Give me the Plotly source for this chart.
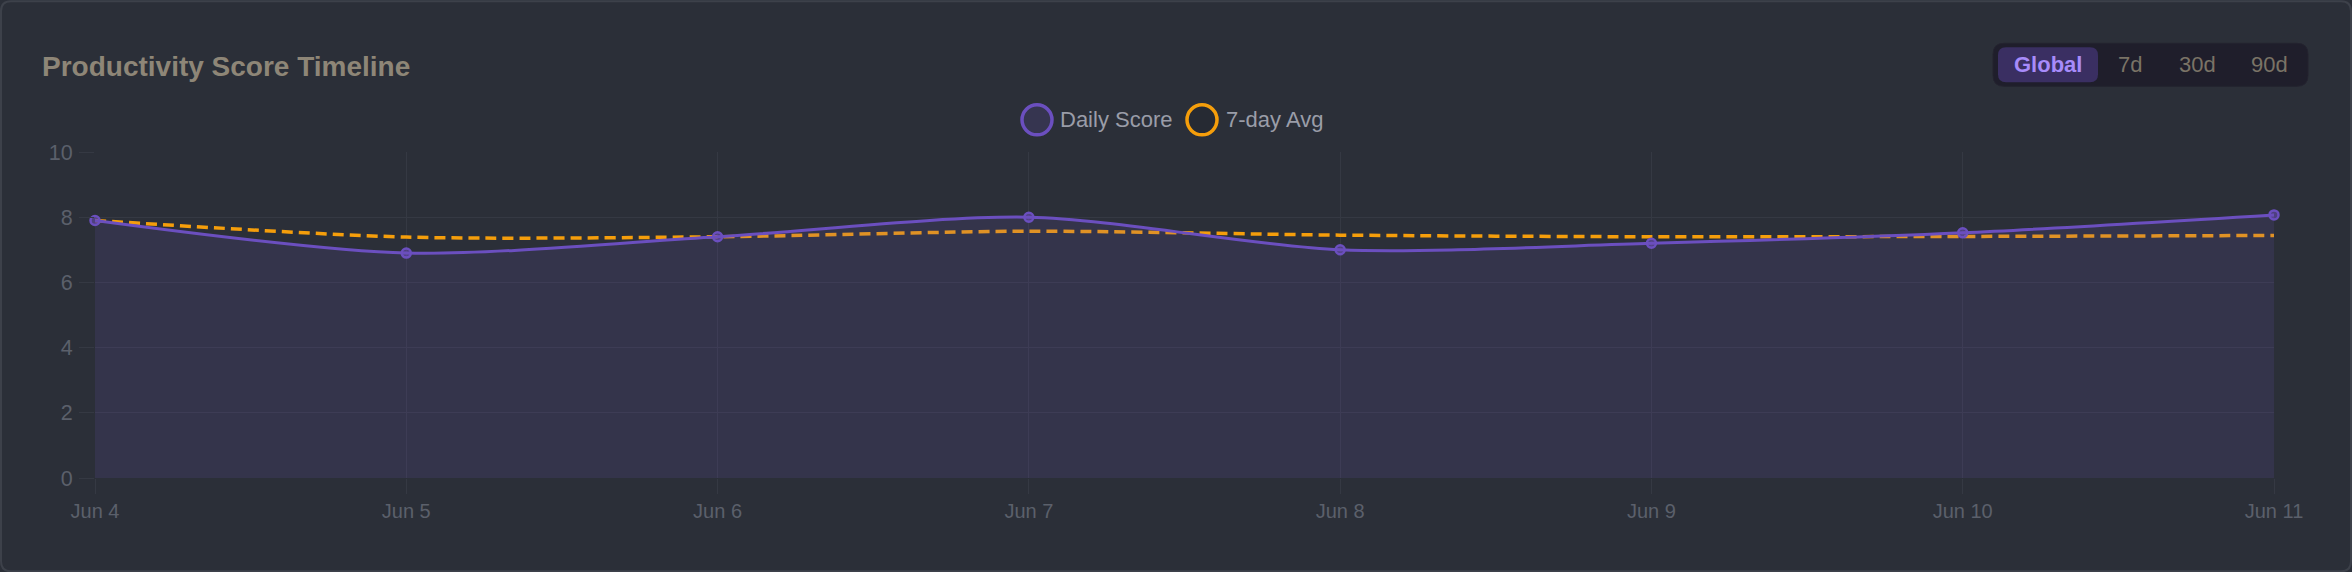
import plotly.graph_objects as go

dates = ["Jun 4", "Jun 5", "Jun 6", "Jun 7", "Jun 8", "Jun 9", "Jun 10", "Jun 11"]
daily_score = [7.9, 6.9, 7.4, 8.0, 7.0, 7.2, 7.52, 8.07]
avg_7day = [7.9, 7.39, 7.4, 7.57, 7.45, 7.4, 7.41, 7.44]
y_ticks = [0, 2, 4, 6, 8, 10]
range_buttons = ["Global", "7d", "30d", "90d"]

W, H = 2352, 572
L, R, T, B = 95, 2274, 151.7, 477.7

BG = "#2b2f38"
GRID = "#353943"
PURPLE = "#6b4fbf"
ORANGE = "#f59e0b"
TICK = "#5b606b"
FONT = "Liberation Sans, Arial, sans-serif"


def px(x):
    return (x - L) / (R - L)


def py(y):
    return (B - y) / (B - T)


def rrect(x0, y0, x1, y1, r):
    return (f"M {px(x0 + r)} {py(y0)} L {px(x1 - r)} {py(y0)} "
            f"Q {px(x1)} {py(y0)} {px(x1)} {py(y0 + r)} L {px(x1)} {py(y1 - r)} "
            f"Q {px(x1)} {py(y1)} {px(x1 - r)} {py(y1)} L {px(x0 + r)} {py(y1)} "
            f"Q {px(x0)} {py(y1)} {px(x0)} {py(y1 - r)} L {px(x0)} {py(y0 + r)} "
            f"Q {px(x0)} {py(y0)} {px(x0 + r)} {py(y0)} Z")


fig = go.Figure()

fig.add_trace(go.Scatter(
    x=dates, y=avg_7day, mode="lines", name="7-day Avg",
    line=dict(color=ORANGE, width=3.5, dash="11px,6px", shape="spline", smoothing=0.8),
    hoverinfo="skip", showlegend=False, cliponaxis=False,
))
fig.add_trace(go.Scatter(
    x=dates, y=daily_score, mode="lines+markers", name="Daily Score",
    line=dict(color=PURPLE, width=3, shape="spline", smoothing=0.8),
    fill="tozeroy", fillcolor="rgba(107,79,187,0.15)",
    marker=dict(size=9, color="rgba(107,79,187,0.55)", line=dict(color=PURPLE, width=2.5)),
    opacity=0.92, cliponaxis=False,
    hoverinfo="skip", showlegend=False,
))

shapes = []
annotations = []

# card border
shapes.append(dict(type="path", xref="paper", yref="paper", path=rrect(1, 1, W - 1, H - 1, 10),
                   line=dict(color="#3d414a", width=2), fillcolor="rgba(0,0,0,0)", layer="below"))

# title
annotations.append(dict(text="<b>Productivity Score Timeline</b>", xref="paper", yref="paper",
                        x=px(40), y=py(66), xanchor="left", yanchor="middle", showarrow=False,
                        font=dict(family=FONT, size=28, color="#8e8677")))

# custom legend
legend_items = [("Daily Score", PURPLE, "#363550", 1037, 1058),
                ("7-day Avg", ORANGE, "#262a33", 1202, 1224)]
for name, col, fill, cx, tx in legend_items:
    shapes.append(dict(type="circle", xref="paper", yref="paper", xsizemode="pixel", ysizemode="pixel",
                       xanchor=px(cx), yanchor=py(119.5), x0=-15, x1=15, y0=-15, y1=15,
                       line=dict(color=col, width=3.5), fillcolor=fill))
    annotations.append(dict(text=name, xref="paper", yref="paper", x=px(tx), y=py(119.5),
                            xanchor="left", yanchor="middle", showarrow=False,
                            font=dict(family=FONT, size=22, color="#9a9da8")))

# range buttons
shapes.append(dict(type="path", xref="paper", yref="paper", path=rrect(1993, 43, 2308, 86, 11),
                   line=dict(color="#24232f", width=1), fillcolor="#1f1e2b"))
shapes.append(dict(type="path", xref="paper", yref="paper", path=rrect(1998, 47, 2098, 82, 8),
                   line=dict(width=0), fillcolor="#3a2f62"))
btn_x = [2048, 2130, 2197, 2269]
for label, bx in zip(range_buttons, btn_x):
    active = label == "Global"
    annotations.append(dict(text=f"<b>{label}</b>" if active else label, xref="paper", yref="paper",
                            x=px(bx), y=py(64), xanchor="center", yanchor="middle", showarrow=False,
                            font=dict(family=FONT, size=22, color="#a78bfa" if active else "#7a7366")))

fig.update_layout(
    width=W, height=H,
    margin=dict(l=L, r=W - R, t=T, b=H - B, pad=0),
    paper_bgcolor=BG, plot_bgcolor=BG,
    showlegend=False,
    shapes=shapes, annotations=annotations,
    xaxis=dict(type="category", range=[0, 7], showgrid=True, gridcolor=GRID, gridwidth=1,
               zeroline=False, showline=False, ticks="outside", ticklen=15, tickcolor=GRID,
               tickfont=dict(family=FONT, size=20, color=TICK), fixedrange=True),
    yaxis=dict(range=[0, 10], tickvals=y_ticks, showgrid=True, gridcolor=GRID, gridwidth=1,
               zeroline=False, showline=False, ticks="outside", ticklen=15, tickcolor=GRID,
               ticklabelstandoff=2,
               tickfont=dict(family=FONT, size=21.5, color=TICK), fixedrange=True),
)

fig.write_html("out.html", config={"displayModeBar": False})
